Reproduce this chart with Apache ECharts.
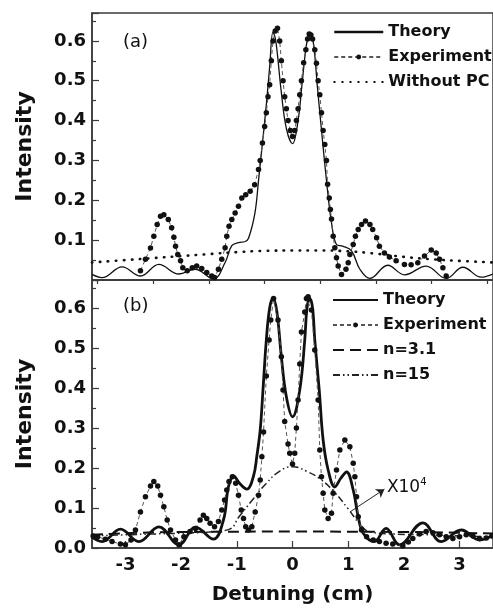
<!DOCTYPE html>
<html>
<head>
<meta charset="utf-8">
<title>Intensity vs detuning</title>
<script src="https://cdn.jsdelivr.net/npm/echarts/dist/echarts.min.js"></script>
<style>
  html, body { margin: 0; padding: 0; background: #fff; }
  #chart { width: 493px; height: 609px; }
</style>
</head>
<body>
<div id="chart"></div>
<script>
// ---- data: [detuning (cm), intensity] ----
var theoryA = [[-3.6,0.014],[-3.42,0.006],[-3.06,0.033],[-2.73,0.01],[-2.4,0.039],[-2.04,0.015],[-1.75,0.027],[-1.42,0.003],
  [-1.21,0.044],[-1.09,0.086],[-0.97,0.094],[-0.86,0.096],[-0.79,0.105],[-0.675,0.168],[-0.61,0.25],[-0.55,0.33],[-0.47,0.44],
  [-0.41,0.535],[-0.35,0.622],[-0.3,0.6],[-0.2,0.47],[-0.11,0.38],[0,0.342],[0.1,0.4],[0.17,0.49],[0.25,0.59],[0.31,0.62],
  [0.37,0.6],[0.45,0.48],[0.52,0.377],[0.61,0.25],[0.7,0.144],[0.79,0.089],[0.9,0.085],[1.06,0.073],[1.21,0.027],[1.39,0.004],
  [1.71,0.037],[2.01,0.013],[2.4,0.035],[2.76,0.004],[3.06,0.032],[3.39,0.007],[3.6,0.015]];

var experimentA = [[-2.73,0.023],[-2.64,0.052],[-2.55,0.08],[-2.49,0.11],[-2.43,0.139],[-2.37,0.16],[-2.31,0.164],[-2.23,0.152],
  [-2.17,0.131],[-2.13,0.107],[-2.1,0.085],[-2.06,0.064],[-2.01,0.048],[-1.97,0.031],[-1.89,0.023],[-1.8,0.031],[-1.72,0.035],
  [-1.63,0.029],[-1.54,0.019],[-1.45,0.01],[-1.4,0.006],[-1.33,0.027],[-1.27,0.052],[-1.21,0.081],[-1.18,0.11],[-1.14,0.135],
  [-1.09,0.152],[-1.03,0.168],[-0.97,0.185],[-0.91,0.206],[-0.84,0.214],[-0.76,0.223],[-0.68,0.239],[-0.61,0.277],[-0.58,0.3],
  [-0.54,0.344],[-0.5,0.385],[-0.47,0.42],[-0.44,0.46],[-0.41,0.49],[-0.38,0.55],[-0.35,0.6],[-0.31,0.625],[-0.27,0.632],
  [-0.23,0.6],[-0.2,0.55],[-0.17,0.5],[-0.14,0.46],[-0.11,0.43],[-0.08,0.4],[-0.04,0.375],[0,0.36],[0.04,0.375],[0.07,0.4],
  [0.1,0.43],[0.13,0.465],[0.16,0.5],[0.2,0.545],[0.24,0.578],[0.27,0.605],[0.3,0.617],[0.33,0.615],[0.36,0.605],[0.4,0.578],
  [0.43,0.544],[0.46,0.5],[0.49,0.465],[0.52,0.42],[0.55,0.375],[0.58,0.34],[0.61,0.3],[0.63,0.24],[0.66,0.206],[0.68,0.177],
  [0.7,0.153],[0.73,0.11],[0.76,0.081],[0.79,0.056],[0.82,0.035],[0.88,0.014],[0.96,0.027],[1.0,0.043],[1.03,0.064],[1.09,0.089],
  [1.13,0.11],[1.18,0.127],[1.24,0.139],[1.31,0.148],[1.39,0.139],[1.44,0.127],[1.51,0.106],[1.56,0.085],[1.65,0.068],
  [1.74,0.058],[1.86,0.048],[2.01,0.039],[2.13,0.038],[2.25,0.043],[2.37,0.06],[2.49,0.075],[2.58,0.068],[2.64,0.052],
  [2.7,0.031],[2.76,0.01]];

var withoutPC = [[-3.6,0.044],[-3,0.05],[-2.5,0.055],[-2,0.06],[-1.5,0.065],[-1,0.07],[-0.5,0.073],[0,0.074],[0.5,0.074],
  [1,0.072],[1.5,0.066],[2,0.058],[2.5,0.052],[3,0.048],[3.6,0.044]];

var theoryB = [[-3.6,0.027],[-3.42,0.016],[-3.09,0.047],[-2.76,0.016],[-2.4,0.053],[-2.04,0.008],[-1.74,0.052],[-1.42,0.022],
  [-1.24,0.07],[-1.15,0.153],[-1.06,0.18],[-0.94,0.16],[-0.82,0.147],[-0.7,0.18],[-0.64,0.23],[-0.58,0.295],[-0.53,0.395],
  [-0.47,0.52],[-0.41,0.6],[-0.35,0.625],[-0.28,0.59],[-0.2,0.478],[-0.11,0.378],[0,0.328],[0.13,0.395],[0.22,0.52],[0.26,0.6],
  [0.31,0.624],[0.36,0.6],[0.4,0.52],[0.48,0.395],[0.55,0.27],[0.64,0.195],[0.76,0.153],[0.87,0.175],[0.97,0.19],[1.09,0.145],
  [1.18,0.078],[1.27,0.037],[1.47,0.016],[1.68,0.049],[1.92,0.008],[2.34,0.063],[2.67,0.016],[3.03,0.045],[3.36,0.02],[3.6,0.032]];

var experimentB = [[-3.58,0.03],[-3.5,0.028],[-3.36,0.022],[-3.24,0.016],[-3.09,0.01],[-3.0,0.008],[-2.9,0.02],[-2.82,0.045],
  [-2.73,0.09],[-2.64,0.128],[-2.55,0.155],[-2.49,0.166],[-2.42,0.155],[-2.37,0.132],[-2.31,0.103],[-2.25,0.07],[-2.19,0.045],
  [-2.1,0.02],[-2.04,0.008],[-1.95,0.028],[-1.84,0.041],[-1.74,0.049],[-1.66,0.07],[-1.6,0.082],[-1.54,0.074],[-1.48,0.062],
  [-1.4,0.053],[-1.33,0.066],[-1.27,0.095],[-1.22,0.12],[-1.18,0.145],[-1.14,0.166],[-1.08,0.178],[-1.02,0.162],[-0.97,0.132],
  [-0.92,0.095],[-0.88,0.074],[-0.84,0.053],[-0.79,0.045],[-0.73,0.053],[-0.67,0.09],[-0.61,0.132],[-0.58,0.17],[-0.55,0.228],
  [-0.52,0.29],[-0.47,0.43],[-0.42,0.52],[-0.39,0.57],[-0.34,0.624],[-0.26,0.57],[-0.2,0.478],[-0.17,0.395],[-0.14,0.316],
  [-0.08,0.26],[-0.05,0.237],[0,0.21],[0.04,0.237],[0.07,0.3],[0.1,0.37],[0.13,0.46],[0.16,0.54],[0.22,0.59],[0.25,0.624],
  [0.28,0.628],[0.34,0.595],[0.4,0.495],[0.46,0.37],[0.49,0.245],[0.52,0.178],[0.55,0.137],[0.58,0.095],[0.64,0.074],
  [0.7,0.087],[0.73,0.137],[0.79,0.195],[0.85,0.245],[0.94,0.27],[1.03,0.253],[1.09,0.212],[1.12,0.178],[1.15,0.128],
  [1.18,0.078],[1.24,0.045],[1.33,0.028],[1.45,0.02],[1.56,0.016],[1.68,0.012],[1.8,0.01],[1.98,0.005],[2.08,0.015],
  [2.16,0.024],[2.28,0.035],[2.4,0.041],[2.52,0.038],[2.64,0.033],[2.76,0.028],[2.88,0.024],[3.0,0.028],[3.12,0.033],
  [3.24,0.03],[3.36,0.024],[3.48,0.025],[3.58,0.03]];

var n31 = [[-3.6,0.033],[-3,0.037],[-2,0.04],[0,0.041],[2,0.04],[3,0.038],[3.6,0.036]];

var n15 = [[-3.6,0.03],[-3,0.033],[-2.5,0.035],[-2,0.037],[-1.5,0.04],[-1.15,0.046],[-0.95,0.08],[-0.72,0.12],[-0.48,0.16],
  [-0.22,0.193],[0,0.203],[0.25,0.192],[0.5,0.172],[0.75,0.14],[1.0,0.098],[1.2,0.062],[1.4,0.04],[1.8,0.035],[2.5,0.033],
  [3,0.03],[3.6,0.028]];

var xMajor = [-3, -2, -1, 0, 1, 2, 3];
var xMinor = [-3.5, -2.5, -1.5, -0.5, 0.5, 1.5, 2.5, 3.5];

var FONT = 'DejaVu Sans';
var INK = '#111';
var FRAME = '#3a3a3a';

function yAxisFor(gi, hideZero) {
  return {
    type: 'value', gridIndex: gi, min: 0, max: 0.67, interval: 0.1,
    name: 'Intensity', nameLocation: 'middle', nameGap: 56,
    nameTextStyle: { fontFamily: FONT, fontWeight: 'bold', fontSize: 22, color: INK },
    axisLine: { show: true, onZero: false, lineStyle: { color: FRAME, width: 1.5 } },
    axisTick: { show: true, inside: true, length: 7, lineStyle: { color: FRAME, width: 1.2 } },
    minorTick: { show: true, splitNumber: 2, length: 4, lineStyle: { color: FRAME, width: 1.2 } },
    splitLine: { show: false },
    axisLabel: {
      margin: 6, showMaxLabel: false,
      fontFamily: FONT, fontWeight: 'bold', fontSize: 18, color: INK,
      formatter: function (v) { return (hideZero && v === 0) ? '' : v.toFixed(1); }
    }
  };
}

var chart = echarts.init(document.getElementById('chart'));
chart.setOption({
  animation: false,
  backgroundColor: '#fff',
  grid: [
    { left: 92, top: 13, right: -3, height: 267, show: true, borderColor: FRAME, borderWidth: 1.5 },
    { left: 92, top: 280, right: -3, height: 268, show: true, borderColor: FRAME, borderWidth: 1.5 }
  ],
  xAxis: [
    { type: 'value', gridIndex: 0, min: -3.6, max: 3.6,
      axisLine: { onZero: false, lineStyle: { color: FRAME, width: 1.5 } },
      axisTick: { show: false }, axisLabel: { show: false }, splitLine: { show: false } },
    { type: 'value', gridIndex: 1, min: -3.6, max: 3.6,
      name: 'Detuning (cm)', nameLocation: 'middle', nameGap: 37,
      nameTextStyle: { fontFamily: FONT, fontWeight: 'bold', fontSize: 20, color: INK },
      axisLine: { onZero: false, lineStyle: { color: FRAME, width: 1.5 } },
      axisTick: { show: true, inside: true, length: 7, customValues: xMajor, lineStyle: { color: FRAME, width: 1.2 } },
      axisLabel: { margin: 8, customValues: xMajor, fontFamily: FONT, fontWeight: 'bold', fontSize: 18, color: INK },
      splitLine: { show: false } },
    { type: 'value', gridIndex: 1, min: -3.6, max: 3.6,
      axisLine: { show: false, onZero: false },
      axisTick: { show: true, inside: true, length: 4, customValues: xMinor, lineStyle: { color: FRAME, width: 1.2 } },
      axisLabel: { show: false }, splitLine: { show: false } }
  ],
  yAxis: [yAxisFor(0, true), yAxisFor(1, false)],
  legend: [
    { orient: 'vertical', left: 333, top: 24, padding: 0, itemWidth: 49, itemHeight: 6, itemGap: 9,
      selectedMode: false,
      textStyle: { fontFamily: FONT, fontWeight: 'bold', fontSize: 16, lineHeight: 16, color: INK },
      data: [
        { name: 'Theory', itemStyle: { color: 'rgba(0,0,0,0)', borderWidth: 0 }, lineStyle: { width: 2.5 } },
        { name: 'Experiment' },
        { name: 'Without PC', itemStyle: { color: 'rgba(0,0,0,0)', borderWidth: 0 } }
      ] },
    { orient: 'vertical', left: 332, top: 292, padding: 0, itemWidth: 45, itemHeight: 6, itemGap: 9,
      selectedMode: false,
      formatter: function (n) { return n.replace(' (b)', ''); },
      textStyle: { fontFamily: FONT, fontWeight: 'bold', fontSize: 16, lineHeight: 16, color: INK },
      data: [
        { name: 'Theory (b)', itemStyle: { color: 'rgba(0,0,0,0)', borderWidth: 0 } },
        { name: 'Experiment (b)' },
        { name: 'n=3.1', itemStyle: { color: 'rgba(0,0,0,0)', borderWidth: 0 } },
        { name: 'n=15', itemStyle: { color: 'rgba(0,0,0,0)', borderWidth: 0 } }
      ] }
  ],
  graphic: [
    { type: 'text', left: 123, top: 33, style: { text: '(a)', font: '18px "DejaVu Sans"', fill: INK } },
    { type: 'text', left: 123, top: 297, style: { text: '(b)', font: '18px "DejaVu Sans"', fill: INK } }
  ],
  series: [
    { name: 'Without PC', type: 'line', xAxisIndex: 0, yAxisIndex: 0, data: withoutPC, smooth: 0.5,
      symbol: 'none', lineStyle: { color: INK, width: 2.6, type: [0.5, 7.5], cap: 'round' } },
    { name: 'Theory', type: 'line', xAxisIndex: 0, yAxisIndex: 0, data: theoryA, smooth: 0.4,
      symbol: 'none', lineStyle: { color: INK, width: 1.3 } },
    { name: 'Experiment', type: 'line', xAxisIndex: 0, yAxisIndex: 0, data: experimentA,
      symbol: 'circle', symbolSize: 5.5, itemStyle: { color: INK },
      lineStyle: { color: '#555', width: 1, type: [4, 3] } },

    { name: 'n=3.1', type: 'line', xAxisIndex: 1, yAxisIndex: 1, data: n31, smooth: 0.5,
      symbol: 'none', lineStyle: { color: INK, width: 2, type: [11, 6] } },
    { name: 'n=15', type: 'line', xAxisIndex: 1, yAxisIndex: 1, data: n15, smooth: 0.5,
      symbol: 'none', lineStyle: { color: '#222', width: 1.5, type: [7, 3, 1.5, 3, 1.5, 3] },
      markLine: {
        silent: true, symbol: ['none', 'arrow'], symbolSize: 8, animation: false,
        lineStyle: { color: '#222', width: 1, type: 'solid' },
        label: { show: true, position: 'end', distance: 3, formatter: '{a|X10}{s|4}',
          rich: { a: { fontFamily: FONT, fontSize: 17, color: INK },
                  s: { fontFamily: FONT, fontSize: 10, color: INK, verticalAlign: 'top', padding: [0, 0, 10, 0] } } },
        data: [[{ coord: [1.03, 0.09] }, { coord: [1.65, 0.147] }]]
      } },
    { name: 'Theory (b)', type: 'line', xAxisIndex: 1, yAxisIndex: 1, data: theoryB, smooth: 0.4,
      symbol: 'none', lineStyle: { color: INK, width: 2.8 } },
    { name: 'Experiment (b)', type: 'line', xAxisIndex: 1, yAxisIndex: 1, data: experimentB,
      symbol: 'circle', symbolSize: 5.5, itemStyle: { color: INK },
      lineStyle: { color: '#555', width: 1, type: [4, 3] } }
  ]
});
</script>
</body>
</html>
